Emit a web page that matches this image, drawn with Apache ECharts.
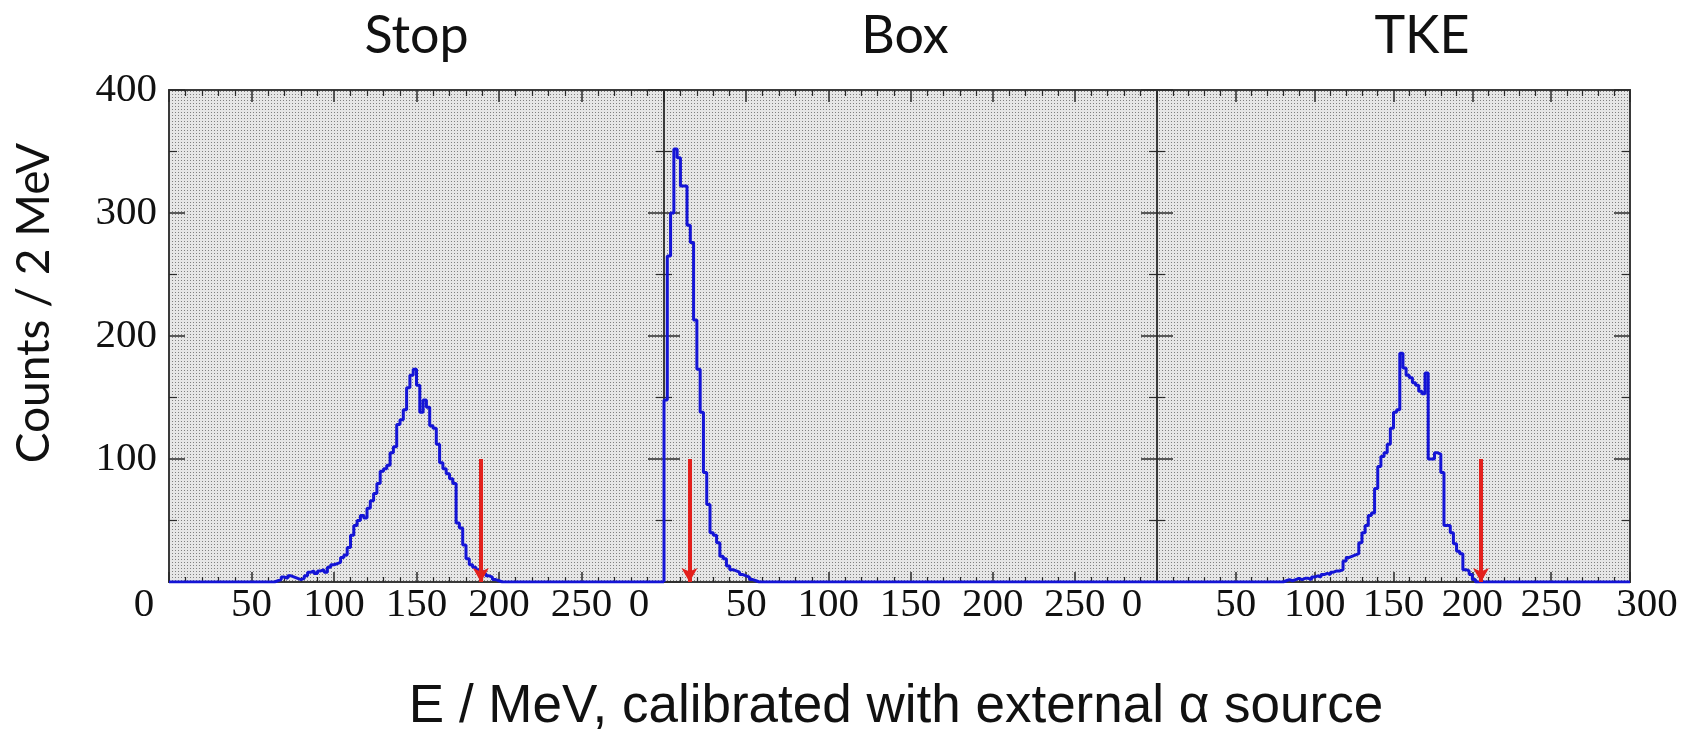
<!DOCTYPE html>
<html><head><meta charset="utf-8">
<script src="https://cdn.jsdelivr.net/npm/echarts@6/dist/echarts.min.js"></script>
<style>html,body{margin:0;padding:0;background:#fff}#c{width:1686px;height:731px}</style>
</head><body><div id="c"></div>
<script>
// ---------------- data ----------------
const panelTitles = ['Stop', 'Box', 'TKE'];
const yAxisName = 'Counts / 2 MeV';
const xAxisName = 'E / MeV, calibrated with external \u03b1 source';
const binWidth = 2;          // MeV per bin, bins start at 0
const xMin = 0, xMax = 300, xStep = 50;
const yMin = 0, yMax = 400, yStep = 100;

// counts per 2 MeV bin, bins 0-2, 2-4, ... 298-300
const stopCounts = [
  0,0,0,0,0,0,0,0,0,0,
  0,0,0,0,0,0,0,0,0,0,
  0,0,0,0,0,0,0,0,0,0,
  0,0,1,2,4,3,5,4,3,2,
  3,5,8,9,7,9,10,8,12,14,
  15,16,20,22,28,38,46,50,54,52,
  60,66,72,80,90,92,95,105,110,128,
  132,140,158,168,173,160,138,148,142,127,
  125,112,97,92,88,84,80,48,44,30,
  19,14,12,10,9,7,5,4,2,1,
  0,0,0,0,0,0,0,0,0,0,
  0,0,0,0,0,0,0,0,0,0,
  0,0,0,0,0,0,0,0,0,0,
  0,0,0,0,0,0,0,0,0,0,
  0,0,0,0,0,0,0,0,0,0
];
const boxCounts = [
  148,265,300,352,345,322,322,290,276,213,
  173,138,89,63,40,38,32,21,19,13,
  10,9,8,6,5,4,2,1,0,0,
  0,0,0,0,0,0,0,0,0,0,
  0,0,0,0,0,0,0,0,0,0,
  0,0,0,0,0,0,0,0,0,0,
  0,0,0,0,0,0,0,0,0,0,
  0,0,0,0,0,0,0,0,0,0,
  0,0,0,0,0,0,0,0,0,0,
  0,0,0,0,0,0,0,0,0,0,
  0,0,0,0,0,0,0,0,0,0,
  0,0,0,0,0,0,0,0,0,0,
  0,0,0,0,0,0,0,0,0,0,
  0,0,0,0,0,0,0,0,0,0,
  0,0,0,0,0,0,0,0,0,0
];
const tkeCounts = [
  0,0,0,0,0,0,0,0,0,0,
  0,0,0,0,0,0,0,0,0,0,
  0,0,0,0,0,0,0,0,0,0,
  0,0,0,0,0,0,0,0,0,0,
  1,2,1,2,3,2,3,3,2,4,
  5,4,6,7,6,8,9,9,10,17,
  20,21,22,23,32,40,46,54,56,76,
  94,102,105,112,125,138,140,186,174,168,
  166,162,160,155,153,170,100,100,105,104,
  89,46,46,40,31,25,23,10,9,6,
  2,0,0,0,0,0,0,0,0,0,
  0,0,0,0,0,0,0,0,0,0,
  0,0,0,0,0,0,0,0,0,0,
  0,0,0,0,0,0,0,0,0,0,
  0,0,0,0,0,0,0,0,0,0
];
const arrowEnergies = [189, 15.5, 205.5];  // red marker positions (MeV)
const arrowTop = 100;                        // marker starts at this count

// ---------------- chart ----------------
const allCounts = [stopCounts, boxCounts, tkeCounts];
const gridLayout = [
  {left: 169, width: 495},
  {left: 664, width: 493},
  {left: 1157, width: 473}
];
const GRID_TOP = 90, GRID_H = 492;
const serif = '"Liberation Serif", "Times New Roman", serif';
const tickColor = '#2a2a2a';

function makePattern() {
  const c = document.createElement('canvas');
  c.width = 3; c.height = 3;
  const g = c.getContext('2d');
  g.fillStyle = '#e6e6e6'; g.fillRect(0, 0, 3, 3);
  g.fillStyle = '#808080'; g.fillRect(1, 1, 1, 1);
  return {image: c, repeat: 'repeat'};
}
const pattern = makePattern();

function histData(counts) {
  const d = [[xMin, 0]];
  counts.forEach((v, i) => d.push([xMin + i * binWidth, v]));
  d.push([xMin + counts.length * binWidth, counts[counts.length - 1]]);
  return d;
}

const grid = [], xAxis = [], yAxis = [], series = [];
gridLayout.forEach((g, i) => {
  grid.push({left: g.left, width: g.width, top: GRID_TOP, height: GRID_H, show: true,
    backgroundColor: pattern, borderColor: '#3a3a3a', borderWidth: 2, containLabel: false});
  const xCommon = {gridIndex: i, type: 'value', min: xMin, max: xMax, interval: xStep,
    axisLine: {show: false, onZero: false}, splitLine: {show: false},
    axisTick: {inside: true, length: 10, lineStyle: {color: tickColor, width: 1.5}},
    minorTick: {show: true, splitNumber: 5, length: 5, lineStyle: {color: tickColor, width: 1.2}}};
  xAxis.push(Object.assign({}, xCommon, {position: 'bottom',
    axisLabel: {show: true, margin: 3, fontFamily: serif, fontSize: 41, color: '#111',
      showMinLabel: true, showMaxLabel: i === 2,
      formatter: v => v === xMin ? '{l|' + v + '}' : (v === xMax ? '{r|' + v + '}' : String(v)),
      rich: {
        l: {fontFamily: serif, fontSize: 41, color: '#111', padding: [0, 50, 0, 0]},
        r: {fontFamily: serif, fontSize: 41, color: '#111', padding: [0, 0, 0, 34]}
      }}}));
  xAxis.push(Object.assign({}, xCommon, {position: 'top', axisLabel: {show: false},
    axisTick: {inside: true, length: 12, lineStyle: {color: tickColor, width: 1.5}},
    minorTick: {show: true, splitNumber: 5, length: 6, lineStyle: {color: tickColor, width: 1.2}}}));
  const yCommon = {gridIndex: i, type: 'value', min: yMin, max: yMax, interval: yStep,
    axisLine: {show: false, onZero: false}, splitLine: {show: false},
    axisTick: {inside: true, length: 16, lineStyle: {color: tickColor, width: 1.5}},
    minorTick: {show: true, splitNumber: 2, length: 8, lineStyle: {color: tickColor, width: 1.2}}};
  yAxis.push(Object.assign({}, yCommon, {position: 'left',
    axisLabel: {show: i === 0, showMinLabel: false, margin: 12, fontFamily: serif, fontSize: 41, color: '#111'}}));
  yAxis.push(Object.assign({}, yCommon, {position: 'right', axisLabel: {show: false}}));

  series.push({
    type: 'line', xAxisIndex: i * 2, yAxisIndex: i * 2, step: 'end',
    data: histData(allCounts[i]), symbol: 'none', silent: true, z: 5,
    lineStyle: {color: '#1414d6', width: 3},
    markLine: {
      silent: true, symbol: ['none', 'arrow'], symbolSize: [12, 14], z: 6,
      label: {show: false},
      lineStyle: {color: '#e3201c', width: 4, type: 'solid'},
      data: [[{coord: [arrowEnergies[i], arrowTop]}, {coord: [arrowEnergies[i], 0]}]]
    }
  });
});

const titleCenters = [416.5, 905, 1422];
const graphic = panelTitles.map((t, i) => ({
  type: 'text', x: titleCenters[i], y: 36,
  style: {text: t, font: '52px Lato', fill: '#111', align: 'center', verticalAlign: 'middle',
          textAlign: 'center', textVerticalAlign: 'middle'}
}));
graphic.push({type: 'text', x: 34, y: 303, rotation: Math.PI / 2,
  style: {text: yAxisName, font: '46px Lato', fill: '#111', align: 'center', verticalAlign: 'middle',
          textAlign: 'center', textVerticalAlign: 'middle'}});
graphic.push({type: 'text', x: 896, y: 707,
  style: {text: xAxisName, font: '53px "Liberation Sans"', fill: '#111', align: 'center', verticalAlign: 'middle',
          textAlign: 'center', textVerticalAlign: 'middle'}});

const chart = echarts.init(document.getElementById('c'));
chart.setOption({animation: false, backgroundColor: '#fff', grid, xAxis, yAxis, series, graphic});
</script></body></html>
